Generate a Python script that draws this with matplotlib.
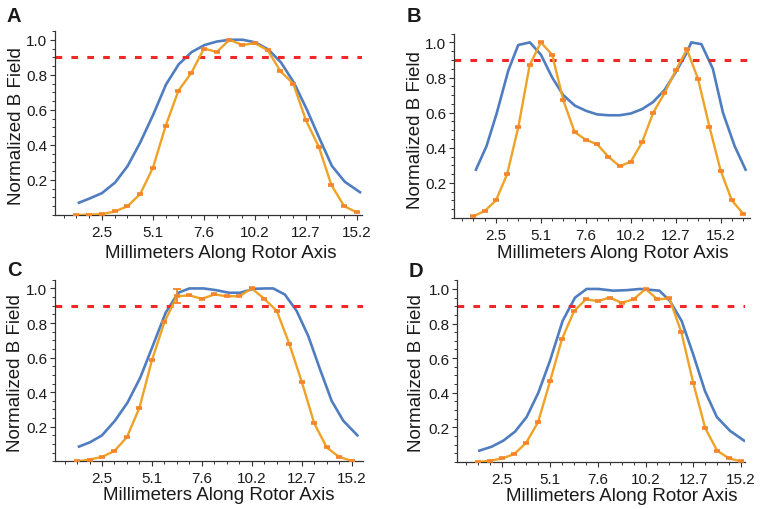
import matplotlib
matplotlib.use("Agg")
import matplotlib.pyplot as plt
from matplotlib.ticker import FixedLocator, MultipleLocator

plt.rcParams['font.family'] = ['Liberation Sans', 'DejaVu Sans']

# ---------------- data ----------------
tick_pos = [2.54, 5.08, 7.62, 10.16, 12.70, 15.24]
tick_labels = ['2.5', '5.1', '7.6', '10.2', '12.7', '15.2']
threshold = 0.9

# measured (orange) positions: multiples of 0.635 mm
meas_x_23 = [0.635 * k for k in range(2, 25)]
meas_x_25 = [0.635 * k for k in range(2, 27)]

# Panel A
A_meas = [0.0, 0.002, 0.005, 0.02, 0.05, 0.12, 0.27, 0.51, 0.71, 0.81, 0.95, 0.93,
          1.0, 0.97, 0.98, 0.94, 0.82, 0.75, 0.54, 0.39, 0.17, 0.05, 0.015]
A_sim_x = [1.39, 1.94, 2.54, 3.19, 3.82, 4.45, 5.10, 5.73, 6.36, 7.01, 7.65, 8.27,
           8.91, 9.55, 10.18, 10.82, 11.46, 12.10, 12.73, 13.38, 13.99, 14.63, 15.39]
A_sim = [0.07, 0.095, 0.125, 0.185, 0.28, 0.415, 0.575, 0.745, 0.86, 0.93, 0.97, 0.99,
         1.0, 1.0, 0.985, 0.945, 0.87, 0.755, 0.605, 0.435, 0.28, 0.19, 0.13]

# Panel B
B_meas = [0.01, 0.04, 0.10, 0.25, 0.52, 0.87, 1.0, 0.93, 0.67, 0.49, 0.445, 0.42,
          0.35, 0.295, 0.32, 0.43, 0.60, 0.71, 0.84, 0.96, 0.79, 0.52, 0.27, 0.10, 0.025]
B_sim_x = [1.41, 2.01, 2.58, 3.24, 3.80, 4.46, 5.08, 5.72, 6.34, 7.00, 7.64, 8.26, 8.90,
           9.54, 10.16, 10.80, 11.42, 12.08, 12.70, 13.32, 13.58, 14.15, 14.80, 15.37,
           16.03, 16.65]
B_sim = [0.275, 0.41, 0.595, 0.84, 0.985, 1.0, 0.93, 0.80, 0.70, 0.64, 0.61, 0.59, 0.585,
         0.585, 0.595, 0.62, 0.66, 0.73, 0.83, 0.94, 1.0, 0.99, 0.85, 0.60, 0.41, 0.275]

# Panel C
C_meas = [0.0, 0.01, 0.025, 0.06, 0.14, 0.31, 0.585, 0.805, 0.955, 0.96, 0.94, 0.965,
          0.955, 0.955, 1.0, 0.94, 0.87, 0.68, 0.46, 0.22, 0.08, 0.025, 0.003]
C_err = [0, 0, 0, 0, 0, 0, 0, 0, 0.042, 0, 0, 0, 0, 0, 0, 0, 0, 0, 0, 0, 0, 0, 0]
C_sim_x = [1.37, 1.93, 2.54, 3.20, 3.84, 4.49, 5.13, 5.78, 6.42, 6.98, 7.71, 8.35,
           9.00, 9.56, 10.27, 10.91, 11.25, 11.84, 12.44, 13.03, 13.62, 14.22, 14.81, 15.53]
C_sim = [0.085, 0.11, 0.15, 0.235, 0.34, 0.485, 0.67, 0.86, 0.975, 1.0, 1.0, 0.99,
         0.975, 0.975, 0.998, 1.0, 1.0, 0.965, 0.87, 0.725, 0.535, 0.35, 0.235, 0.15]

# Panel D
D_meas = [0.0, 0.007, 0.02, 0.045, 0.11, 0.23, 0.465, 0.71, 0.87, 0.94, 0.93, 0.95,
          0.92, 0.94, 1.0, 0.94, 0.945, 0.75, 0.455, 0.195, 0.065, 0.02, 0.003]
D_sim_x = [1.32, 1.98, 2.60, 3.22, 3.84, 4.46, 5.08, 5.75, 6.41, 7.03, 7.65, 8.45,
           9.16, 9.87, 10.90, 11.46, 12.08, 12.70, 13.32, 13.95, 14.65, 15.40]
D_sim = [0.065, 0.088, 0.123, 0.175, 0.26, 0.40, 0.585, 0.815, 0.95, 1.0, 1.0, 0.99,
         0.993, 1.0, 0.99, 0.93, 0.815, 0.62, 0.41, 0.26, 0.18, 0.123]

# ---------------- layout (pixels) ----------------
W, H = 760, 510
BLUE = '#4f7dc0'
ORANGE = '#eea226'
MARK = '#f5852a'
RED = '#f02828'
TXT = '#1a1a1a'

panels = [
    dict(letter='A', box=(55, 362, 216, 32), xlim=(0.2, 15.49), mx=meas_x_23, my=A_meas,
         sx=A_sim_x, sy=A_sim, err=None, xl=(0.541, -0.158), yl=(-0.124, 0.489), lp=(7, 21.7)),
    dict(letter='B', box=(454, 750, 219, 34.6), xlim=(0.17, 16.9), mx=meas_x_25, my=B_meas,
         sx=B_sim_x, sy=B_sim, err=None, xl=(0.535, -0.141), yl=(-0.129, 0.485), lp=(407, 21.7)),
    dict(letter='C', box=(55, 362.7, 462.3, 280.8), xlim=(0.15, 15.8), mx=meas_x_23, my=C_meas,
         sx=C_sim_x, sy=C_sim, err=C_err, xl=(0.533, -0.134), yl=(-0.127, 0.492), lp=(7, 275.7)),
    dict(letter='D', box=(457.3, 745, 462.9, 281.3), xlim=(0.15, 15.45), mx=meas_x_23, my=D_meas,
         sx=D_sim_x, sy=D_sim, err=None, xl=(0.570, -0.14), yl=(-0.141, 0.493), lp=(409, 277)),
]

fig = plt.figure(figsize=(W / 100, H / 100), dpi=100)
fig.patch.set_facecolor('white')

for p in panels:
    l, r, b, t = p['box']
    ax = fig.add_axes([l / W, 1 - b / H, (r - l) / W, (b - t) / H])
    ax.set_xlim(*p['xlim'])
    ax.set_ylim(0, 1.05)
    for s in ('top', 'right'):
        ax.spines[s].set_visible(False)
    for s in ('left', 'bottom'):
        ax.spines[s].set_color('#333333')
        ax.spines[s].set_linewidth(0.9)

    ax.plot(p['sx'], p['sy'], color=BLUE, lw=1.9, zorder=2, solid_joinstyle='round')
    ax.axhline(threshold, color=RED, lw=2.2, linestyle=(0, (2.2, 3.0)), zorder=2.5)
    ax.plot(p['mx'], p['my'], color=ORANGE, lw=1.7, zorder=3,
            marker='_', ms=4.5, mew=2.6, mec=MARK, mfc=MARK)
    if p['err'] is not None:
        ex = [x for x, e in zip(p['mx'], p['err']) if e > 0]
        ey = [y for y, e in zip(p['my'], p['err']) if e > 0]
        ee = [e for e in p['err'] if e > 0]
        ax.errorbar(ex, ey, yerr=ee, fmt='none', ecolor=MARK, elinewidth=1.3,
                    capsize=3, capthick=1.3, zorder=3.5)

    ax.xaxis.set_major_locator(FixedLocator(tick_pos))
    ax.set_xticklabels(tick_labels)
    ax.xaxis.set_minor_locator(MultipleLocator(0.635))
    ax.yaxis.set_major_locator(FixedLocator([0.2, 0.4, 0.6, 0.8, 1.0]))
    ax.set_yticklabels(['0.2', '0.4', '0.6', '0.8', '1.0'])
    ax.yaxis.set_minor_locator(MultipleLocator(0.05))
    ax.tick_params(which='major', direction='out', length=3.5, width=0.8,
                   color='#333333', labelsize=11, labelcolor=TXT)
    ax.tick_params(which='minor', direction='out', length=2, width=0.7, color='#333333')
    ax.tick_params(axis='x', which='major', pad=3.5)
    ax.tick_params(axis='y', which='major', pad=2)

    ax.set_xlabel('Millimeters Along Rotor Axis', fontsize=13.5, color=TXT)
    ax.xaxis.set_label_coords(*p['xl'])
    ax.xaxis.label.set_va('top')
    ax.set_ylabel('Normalized B Field', fontsize=13.5, color=TXT)
    ax.yaxis.set_label_coords(*p['yl'])
    ax.yaxis.label.set_va('center')

    fig.text(p['lp'][0] / W, 1 - p['lp'][1] / H, p['letter'], fontsize=14.5,
             fontweight='bold', color=TXT, ha='left', va='baseline')

fig.savefig('out.png', dpi=100, facecolor='white')
